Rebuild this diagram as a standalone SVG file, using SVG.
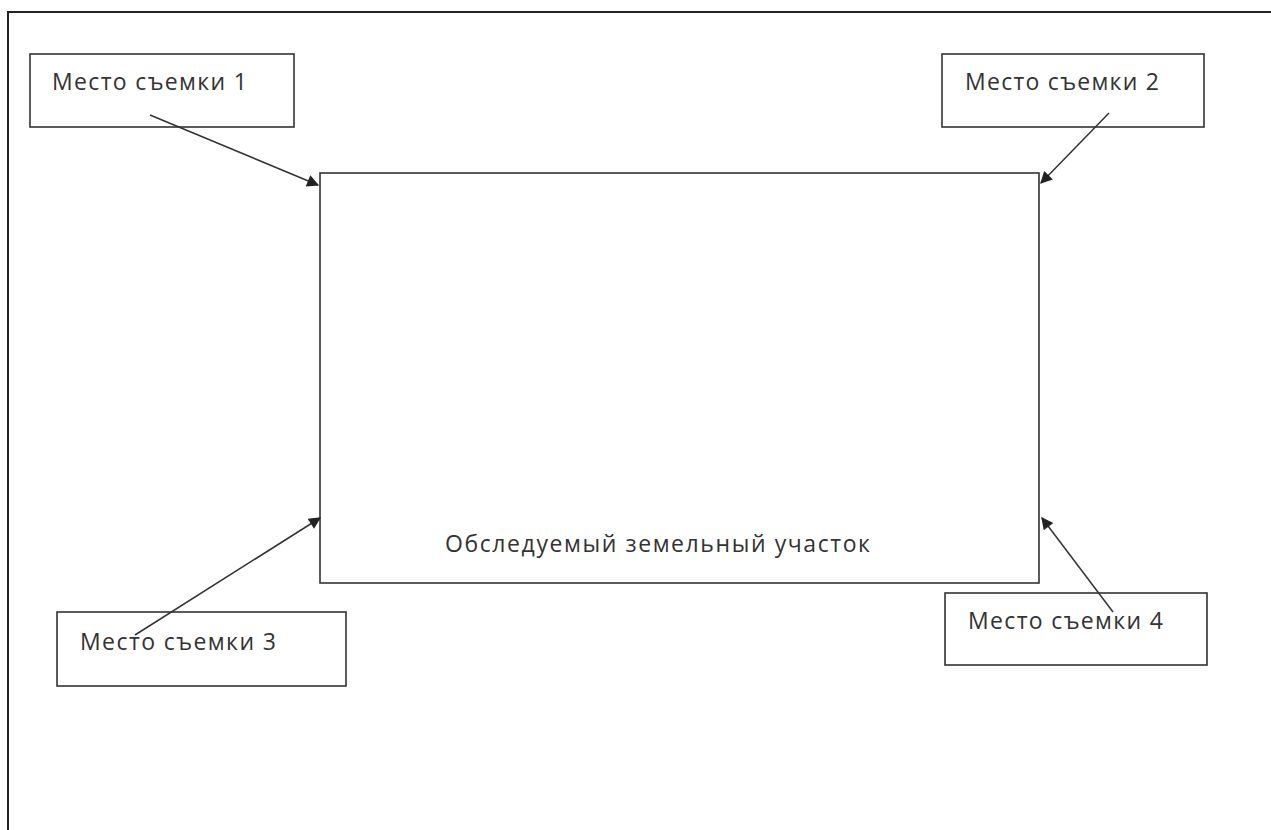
<svg xmlns="http://www.w3.org/2000/svg" width="1271" height="830" viewBox="0 0 1271 830">
<style>
.box{fill:#fff;stroke:#333;stroke-width:1.6}
.lbl{font-family:"Open Sans","Liberation Sans",sans-serif;font-size:23px;fill:#333}
.conn{stroke:#333;stroke-width:1.5;fill:none;marker-end:url(#ah)}
.frame{stroke:#222;stroke-width:2;fill:none}
</style>
<defs>
<marker id="ah" viewBox="0 0 10 10" refX="9" refY="5" markerWidth="14" markerHeight="12" markerUnits="userSpaceOnUse" orient="auto">
<path d="M0,0 L10,5 L0,10 z" fill="#222"/>
</marker>
</defs>
<rect width="1271" height="830" fill="#fff"/>
<g id="frame">
<path class="frame" d="M1271,12 L8,12 L8,830"/>
</g>
<g id="plot">
<rect class="box" x="320" y="173" width="719" height="410"/>
<text class="lbl" x="445" y="552" textLength="425" lengthAdjust="spacing">Обследуемый земельный участок</text>
</g>
<g id="site1">
<rect class="box" x="30" y="54" width="264" height="73"/>
<text class="lbl" x="52" y="90" textLength="195" lengthAdjust="spacing">Место съемки 1</text>
</g>
<g id="site2">
<rect class="box" x="942" y="54" width="262" height="73"/>
<text class="lbl" x="965" y="90" textLength="194" lengthAdjust="spacing">Место съемки 2</text>
</g>
<g id="site3">
<rect class="box" x="57" y="612" width="289" height="74"/>
<text class="lbl" x="80" y="650" textLength="196" lengthAdjust="spacing">Место съемки 3</text>
</g>
<g id="site4">
<rect class="box" x="945" y="593" width="262" height="72"/>
<text class="lbl" x="968" y="629" textLength="195" lengthAdjust="spacing">Место съемки 4</text>
</g>
<g id="connectors">
<line class="conn" x1="150" y1="115" x2="318" y2="185"/>
<line class="conn" x1="1109" y1="113" x2="1041" y2="183"/>
<line class="conn" x1="135" y1="635" x2="320" y2="518"/>
<line class="conn" x1="1113" y1="612" x2="1042" y2="518"/>
</g>
</svg>
